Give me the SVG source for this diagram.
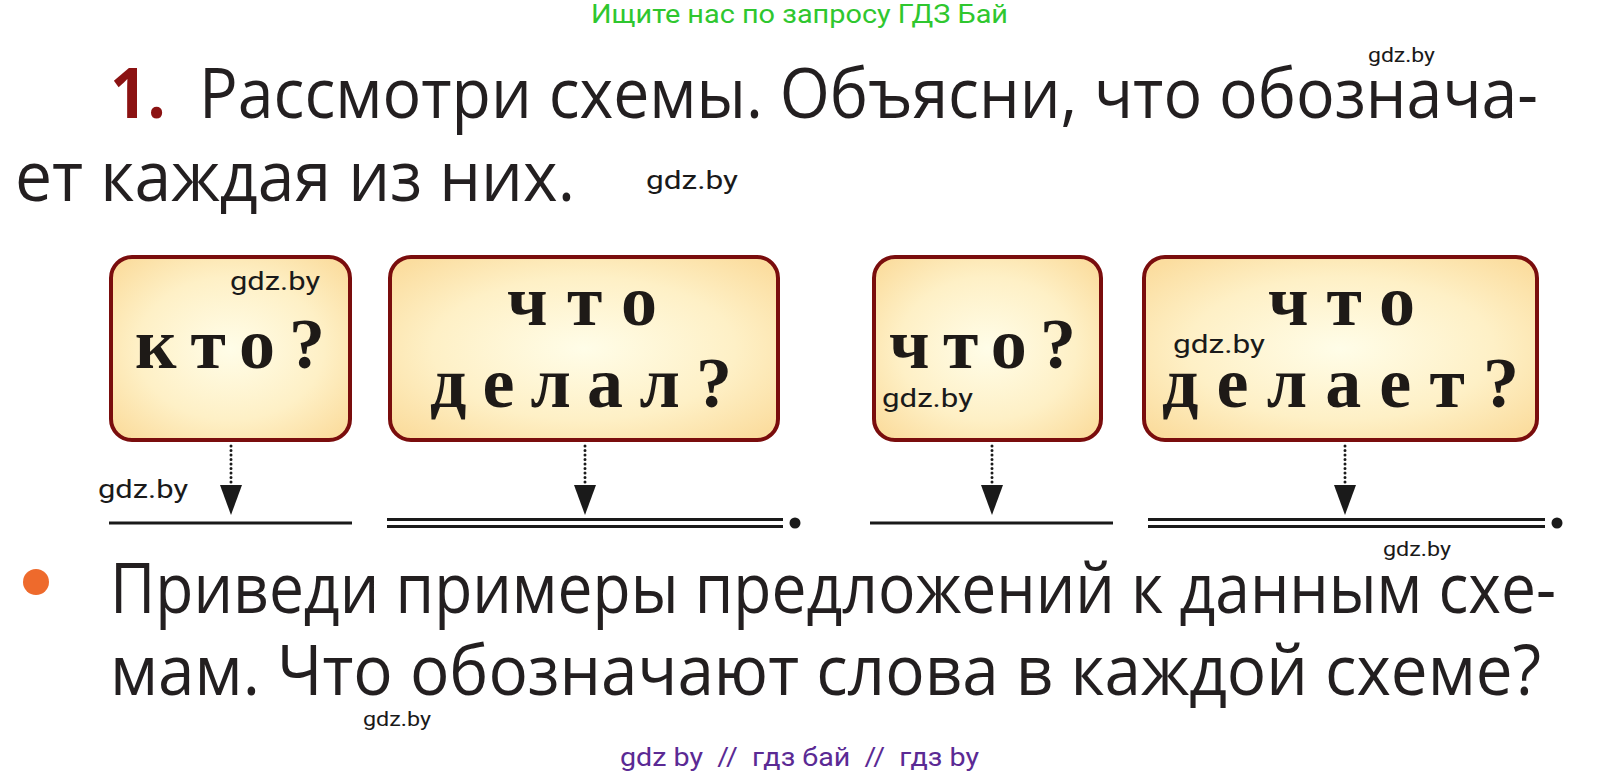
<svg xmlns="http://www.w3.org/2000/svg" width="1602" height="778" viewBox="0 0 1602 778">
<style>
.hd{font-family:"Open Sans","Noto Sans",sans-serif;font-size:70px;fill:#231f20}
.wm{font-family:Roboto,"Liberation Sans",sans-serif;fill:#1a1a1a}
.box{fill:url(#bg);stroke:#7a0d0d;stroke-width:4}
.bt{font-family:"Liberation Serif","DejaVu Serif",serif;font-weight:bold;font-size:72px;fill:#1e1a17}
.con{fill:none;stroke:#1a1a1a;stroke-width:3;stroke-linecap:round;stroke-dasharray:0 4.5}
.ln{stroke:#1a1a1a;stroke-width:3.2}
</style>
<defs>
<radialGradient id="bg" cx="0.5" cy="0.5" r="0.65">
<stop offset="0" stop-color="#fffde8"/>
<stop offset="0.6" stop-color="#fef0c6"/>
<stop offset="1" stop-color="#fbdd9f"/>
</radialGradient>
<marker id="ah" markerUnits="userSpaceOnUse" viewBox="0 -12 30 24" refX="0" refY="0" markerWidth="30" markerHeight="24" orient="auto">
<path d="M0,-11 L30,0 L0,11 Z" fill="#1a1a1a"/>
</marker>
</defs>
<rect width="1602" height="778" fill="#ffffff"/>

<text x="591" y="23" font-family="Roboto,'Liberation Sans',sans-serif" font-size="25" fill="#2fc72f" textLength="417" lengthAdjust="spacingAndGlyphs">Ищите нас по запросу ГДЗ Бай</text>

<g id="header">
<text x="110" y="118" font-family="'Open Sans','Noto Sans',sans-serif" font-weight="bold" font-size="70" fill="#8b1212" textLength="56" lengthAdjust="spacingAndGlyphs">1.</text>
<text class="hd" x="199" y="118" textLength="1339" lengthAdjust="spacingAndGlyphs">Рассмотри схемы. Объясни, что обознача-</text>
<text class="hd" x="15" y="201" textLength="560" lengthAdjust="spacingAndGlyphs">ет каждая из них.</text>
</g>

<text class="wm" x="1368" y="62" font-size="20" textLength="67" lengthAdjust="spacingAndGlyphs">gdz.by</text>
<text class="wm" x="646" y="189" font-size="25" textLength="92" lengthAdjust="spacingAndGlyphs">gdz.by</text>

<g id="node-kto">
<rect class="box" x="111" y="257" width="239" height="183" rx="21"/>
<text class="bt" x="135" y="368" textLength="190" lengthAdjust="spacing">кто?</text>
<text class="wm" x="230" y="290" font-size="25" textLength="90" lengthAdjust="spacingAndGlyphs">gdz.by</text>
</g>
<g id="node-chto-delal">
<rect class="box" x="390" y="257" width="388" height="183" rx="21"/>
<text class="bt" x="507" y="325" textLength="150" lengthAdjust="spacing">что</text>
<text class="bt" x="430" y="407" textLength="302" lengthAdjust="spacing">делал?</text>
</g>
<g id="node-chto">
<rect class="box" x="874" y="257" width="227" height="183" rx="21"/>
<text class="bt" x="889" y="368" textLength="187" lengthAdjust="spacing">что?</text>
<text class="wm" x="882" y="407" font-size="25" textLength="91" lengthAdjust="spacingAndGlyphs">gdz.by</text>
</g>
<g id="node-chto-delaet">
<rect class="box" x="1144" y="257" width="393" height="183" rx="21"/>
<text class="bt" x="1268" y="325" textLength="147" lengthAdjust="spacing">что</text>
<text class="bt" x="1162" y="407" textLength="357" lengthAdjust="spacing">делает?</text>
<text class="wm" x="1173" y="353" font-size="25" textLength="92" lengthAdjust="spacingAndGlyphs">gdz.by</text>
</g>

<g id="connectors">
<path class="con" d="M231,446 V485" marker-end="url(#ah)"/>
<path class="con" d="M585,446 V485" marker-end="url(#ah)"/>
<path class="con" d="M992,446 V485" marker-end="url(#ah)"/>
<path class="con" d="M1345,446 V485" marker-end="url(#ah)"/>
</g>

<g id="lines">
<line class="ln" x1="109" y1="523" x2="352" y2="523"/>
<line class="ln" x1="387" y1="519.5" x2="783" y2="519.5"/>
<line class="ln" x1="387" y1="526.5" x2="783" y2="526.5"/>
<circle cx="795" cy="523" r="5.5" fill="#1a1a1a"/>
<line class="ln" x1="870" y1="523" x2="1113" y2="523"/>
<line class="ln" x1="1148" y1="519.5" x2="1545" y2="519.5"/>
<line class="ln" x1="1148" y1="526.5" x2="1545" y2="526.5"/>
<circle cx="1557" cy="523" r="5.5" fill="#1a1a1a"/>
</g>

<text class="wm" x="98" y="498" font-size="25" textLength="90" lengthAdjust="spacingAndGlyphs">gdz.by</text>
<text class="wm" x="1383" y="556" font-size="20" textLength="68" lengthAdjust="spacingAndGlyphs">gdz.by</text>

<g id="task">
<circle cx="36" cy="582" r="13" fill="#ee6a2c"/>
<text class="hd" x="110" y="613" textLength="1446" lengthAdjust="spacingAndGlyphs">Приведи примеры предложений к данным схе-</text>
<text class="hd" x="110" y="695" textLength="1431" lengthAdjust="spacingAndGlyphs">мам. Что обозначают слова в каждой схеме?</text>
</g>

<text class="wm" x="363" y="726" font-size="20" textLength="68" lengthAdjust="spacingAndGlyphs">gdz.by</text>
<text x="620" y="766" xml:space="preserve" font-family="Roboto,'Liberation Sans',sans-serif" font-size="25" fill="#5b2a94" textLength="359" lengthAdjust="spacingAndGlyphs">gdz by  //  гдз бай  //  гдз by</text>
</svg>
